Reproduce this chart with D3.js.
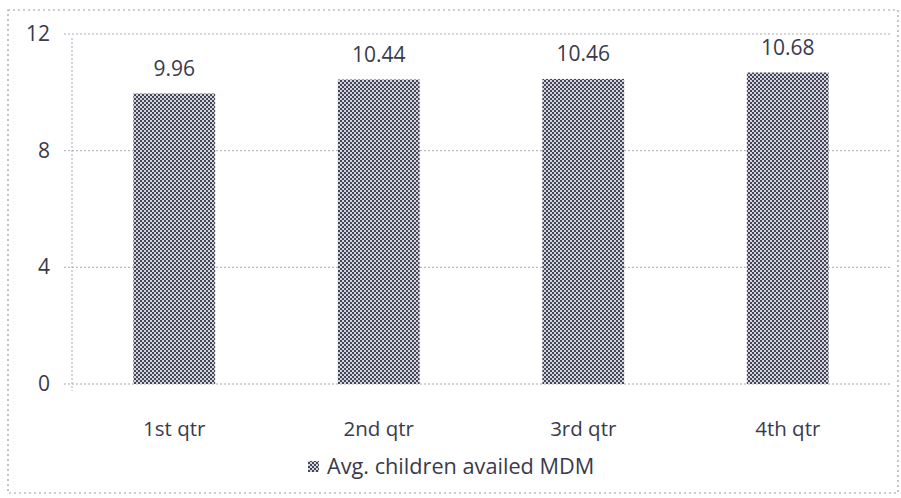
<!DOCTYPE html>
<html>
<head>
<meta charset="utf-8">
<script src="https://cdn.jsdelivr.net/npm/d3@7"></script>
<style>
  body { margin: 0; background: #fff; }
  text { font-family: "Open Sans", Lato, sans-serif; fill: #3a3a4c; }
</style>
</head>
<body>
<svg id="chart" width="901" height="498"></svg>
<script>
let categories = ['1st qtr', '2nd qtr', '3rd qtr', '4th qtr'];
let values = [9.96, 10.44, 10.46, 10.68];
let yTicks = [0, 4, 8, 12];
let seriesName = 'Avg. children availed MDM';

let svg = d3.select('#chart');
let plotLeft = 72, plotRight = 890, plotTop = 34, plotBottom = 384;

// checker fill like the printed pattern
let defs = svg.append('defs');
let pat = defs.append('pattern')
  .attr('id', 'checker')
  .attr('width', 4).attr('height', 4)
  .attr('patternUnits', 'userSpaceOnUse');
pat.append('rect').attr('width', 4).attr('height', 4).attr('fill', '#d4d4dc');
pat.append('rect').attr('width', 2).attr('height', 2).attr('fill', '#45455a');
pat.append('rect').attr('x', 2).attr('y', 2).attr('width', 2).attr('height', 2).attr('fill', '#45455a');

// outer dotted frame
svg.append('rect')
  .attr('x', 8).attr('y', 10)
  .attr('width', 890).attr('height', 483)
  .attr('fill', 'none')
  .attr('stroke', '#9a9aaa')
  .attr('stroke-width', 1.2)
  .attr('stroke-dasharray', '2,3');

let x = d3.scaleBand().domain(categories).range([plotLeft, plotRight]).paddingInner(0.6).paddingOuter(0.3);
let y = d3.scaleLinear().domain([0, 12]).range([plotBottom, plotTop]);

// gridlines
svg.append('g').selectAll('line')
  .data(yTicks)
  .join('line')
  .attr('x1', plotLeft - 8).attr('x2', plotRight)
  .attr('y1', d => y(d)).attr('y2', d => y(d))
  .attr('stroke', '#a8a8b8')
  .attr('stroke-width', 1)
  .attr('stroke-dasharray', '2,2');

// y axis line
svg.append('line')
  .attr('x1', plotLeft).attr('x2', plotLeft)
  .attr('y1', y(12) + 4).attr('y2', plotBottom + 7)
  .attr('stroke', '#a8a8b8')
  .attr('stroke-dasharray', '2,2');

svg.append('g').selectAll('text')
  .data(yTicks)
  .join('text')
  .attr('x', 50)
  .attr('y', d => y(d) + 7)
  .attr('text-anchor', 'end')
  .attr('font-size', 21)
  .text(d => d);

// bars
svg.append('g').selectAll('rect')
  .data(values)
  .join('rect')
  .attr('x', (d, i) => x(categories[i]))
  .attr('y', d => y(d))
  .attr('width', x.bandwidth())
  .attr('height', d => y(0) - y(d))
  .attr('fill', 'url(#checker)');

svg.append('g').selectAll('text')
  .data(values)
  .join('text')
  .attr('x', (d, i) => x(categories[i]) + x.bandwidth() / 2)
  .attr('y', d => y(d) - 18)
  .attr('text-anchor', 'middle')
  .attr('font-size', 21)
  .text(d => d.toFixed(2));

// category labels
svg.append('g').selectAll('text')
  .data(categories)
  .join('text')
  .attr('x', d => x(d) + x.bandwidth() / 2)
  .attr('y', 436)
  .attr('text-anchor', 'middle')
  .attr('font-size', 20.5)
  .text(d => d);

// legend
let legend = svg.append('g').attr('transform', 'translate(308,474)');
legend.append('rect')
  .attr('x', 0).attr('y', -13)
  .attr('width', 11).attr('height', 11)
  .attr('fill', 'url(#checker)');
legend.append('text')
  .attr('x', 19).attr('y', 0)
  .attr('font-size', 21.7)
  .text(seriesName);
</script>
</body>
</html>
